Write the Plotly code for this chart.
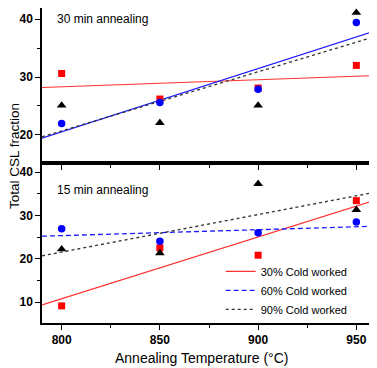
import numpy as np
import plotly.graph_objects as go

temps = [800, 850, 900, 950]

# 30 min annealing (top panel)
cw30_30min = [30.6, 26.2, 28.1, 32.0]
cw60_30min = [22.0, 25.6, 27.9, 39.4]
cw90_30min = [25.1, 22.1, 25.1, 41.1]

# 15 min annealing (bottom panel)
cw30_15min = [9.1, 22.5, 20.8, 33.4]
cw60_15min = [26.9, 24.0, 26.0, 28.5]
cw90_15min = [22.2, 21.3, 37.3, 31.3]

series_names = ["30% Cold worked", "60% Cold worked", "90% Cold worked"]
x_range = [790, 960]

FONT = "Arial, Liberation Sans, sans-serif"
RED = "#ff3030"
BLUE = "#1a1aff"

fig = go.Figure()

def fit_line(y):
    k, b = np.polyfit(temps, y, 1)
    xs = np.array(x_range, dtype=float)
    return xs, k * xs + b

def add_panel(data, xa, ya, line_styles, show_legend):
    markers = [dict(symbol="square", size=7, color="#ff0000"),
               dict(symbol="circle", size=7.5, color="#0000ff"),
               dict(symbol="triangle-up", size=8.5, color="#000000")]
    for y, name, ls in zip(data, series_names, line_styles):
        xs, ys = fit_line(y)
        fig.add_trace(go.Scatter(x=xs, y=ys, mode="lines", name=name,
                                 line=ls, xaxis=xa, yaxis=ya,
                                 showlegend=show_legend))
    for y, name, mk in zip(data, series_names, markers):
        fig.add_trace(go.Scatter(x=temps, y=y, mode="markers", marker=mk,
                                 xaxis=xa, yaxis=ya, showlegend=False))

top_styles = [dict(color=RED, width=1.2),
              dict(color=BLUE, width=1.3),
              dict(color="#333333", width=1.3, dash="dot")]
bot_styles = [dict(color=RED, width=1.2),
              dict(color=BLUE, width=1.3, dash="5px,3px"),
              dict(color="#333333", width=1.3, dash="dot")]

add_panel([cw30_30min, cw60_30min, cw90_30min], "x", "y", top_styles, False)
add_panel([cw30_15min, cw60_15min, cw90_15min], "x2", "y2", bot_styles, True)

split = 0.508
axis_common = dict(showline=True, linecolor="#000", linewidth=1.5, mirror=True,
                   ticks="outside", tickwidth=1.3, ticklen=5, tickcolor="#000",
                   showgrid=False, zeroline=False, automargin=False,
                   tickprefix="<b>", ticksuffix="</b>",
                   tickfont=dict(family=FONT, size=12, color="#000"))
minor = dict(ticks="outside", ticklen=3, tickwidth=1.1, tickcolor="#000", showgrid=False)

fig.update_layout(
    width=369, height=360,
    margin=dict(l=34, r=1, t=0, b=45),
    paper_bgcolor="white", plot_bgcolor="white",
    font=dict(family=FONT, color="#000"),
    showlegend=True,
    xaxis=dict(domain=[0, 1], anchor="y", range=x_range, dtick=50, tick0=800,
               showticklabels=False, minor=dict(dtick=25, **minor), **axis_common),
    yaxis=dict(domain=[split, 1], anchor="x", range=[15.17, 41.9], dtick=10, tick0=0,
               minor=dict(dtick=5, **minor), **axis_common),
    xaxis2=dict(domain=[0, 1], anchor="y2", range=x_range, dtick=50, tick0=800,
                minor=dict(dtick=25, **minor), **axis_common),
    yaxis2=dict(domain=[0, split], anchor="x2", range=[5.15, 42.1], dtick=10, tick0=0,
                minor=dict(dtick=5, **minor), **axis_common),
    legend=dict(x=0.535, y=0.21, xanchor="left", yanchor="top",
                bgcolor="rgba(0,0,0,0)", font=dict(family=FONT, size=11, color="#000"),
                tracegroupgap=0),
    annotations=[
        dict(text="30 min annealing", x=0.04, y=0.965, xref="paper", yref="paper",
             xanchor="left", yanchor="middle", showarrow=False,
             font=dict(family=FONT, size=12, color="#000")),
        dict(text="15 min annealing", x=0.04, y=0.422, xref="paper", yref="paper",
             xanchor="left", yanchor="middle", showarrow=False,
             font=dict(family=FONT, size=12, color="#000")),
        dict(text="Total CSL fraction", x=-0.084, y=0.53, xref="paper", yref="paper",
             xanchor="center", yanchor="middle", textangle=-90, showarrow=False,
             font=dict(family=FONT, size=13.5, color="#000")),
        dict(text="Annealing Temperature (°C)", x=0.4775, y=-0.111, xref="paper", yref="paper",
             xanchor="center", yanchor="middle", showarrow=False,
             font=dict(family=FONT, size=14, color="#000")),
    ],
)

fig.write_html("out.html")
